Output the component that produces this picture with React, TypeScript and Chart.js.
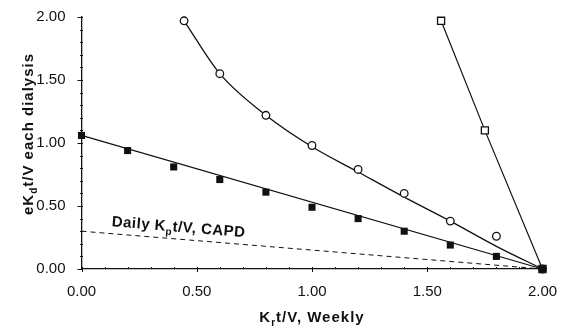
import React, { useEffect, useRef } from "react";
import { Chart, registerables } from "chart.js";

Chart.register(...registerables);

// Filled squares (hemodialysis data) and their regression line
const filledX = [0, 0.2, 0.4, 0.6, 0.8, 1.0, 1.2, 1.4, 1.6, 1.8, 2.0];
const filledY = [1.06, 0.94, 0.81, 0.71, 0.61, 0.49, 0.4, 0.3, 0.19, 0.1, 0.0];
const filledFitX = [0, 2.0];
const filledFitY = [1.06, 0.0];

// Open circles and their fitted curve
const circleX = [0.445, 0.6, 0.8, 1.0, 1.2, 1.4, 1.6, 1.8, 2.0];
const circleY = [1.97, 1.55, 1.22, 0.98, 0.79, 0.6, 0.38, 0.26, 0.0];
const circleFitX = [0.445, 0.6, 0.8, 1.0, 1.2, 1.4, 1.6, 1.8, 2.0];
const circleFitY = [1.97, 1.55, 1.22, 0.97, 0.77, 0.57, 0.38, 0.18, 0.0];

// Open squares
const openSqX = [1.56, 1.75, 2.0];
const openSqY = [1.97, 1.1, 0.0];

// Daily CAPD line (dashed)
const capdX = [0, 2.0];
const capdY = [0.3, 0.0];

// Axis
const axisMin = 0;
const axisMax = 2;
const majorStep = 0.5;
const minorTicks = [0, 0.1, 0.2, 0.3, 0.4, 0.5, 0.6, 0.7, 0.8, 0.9, 1.0, 1.1, 1.2, 1.3, 1.4, 1.5, 1.6, 1.7, 1.8, 1.9, 2.0];

const xTitle: [string, boolean][] = [["K", false], ["r", true], ["t/V, Weekly", false]];
const yTitle: [string, boolean][] = [["eK", false], ["d", true], ["t/V each dialysis", false]];
const capdLabel: [string, boolean][] = [["Daily K", false], ["p", true], ["t/V, CAPD", false]];
const capdLabelAt = { x: 0.13, y: 0.34 };

const FONT = '"Liberation Sans", Arial, Helvetica, sans-serif';
const INK = "#111";

const pts = (xs: number[], ys: number[]) => xs.map((x, i) => ({ x, y: ys[i] }));

function measureParts(ctx: CanvasRenderingContext2D, parts: [string, boolean][], size: number, sub: number) {
  let w = 0;
  for (const [t, s] of parts) {
    ctx.font = `bold ${s ? sub : size}px ${FONT}`;
    w += ctx.measureText(t).width;
  }
  return w;
}

function drawParts(ctx: CanvasRenderingContext2D, parts: [string, boolean][], x: number, y: number, size: number, sub: number) {
  let cx = x;
  for (const [t, s] of parts) {
    ctx.font = `bold ${s ? sub : size}px ${FONT}`;
    ctx.fillText(t, cx, s ? y + 4 : y);
    cx += ctx.measureText(t).width;
  }
}

const overlay = {
  id: "overlay",
  afterDraw(chart: any) {
    const { ctx, chartArea } = chart;
    const xs = chart.scales.x;
    const ys = chart.scales.y;
    ctx.save();
    ctx.strokeStyle = INK;
    ctx.lineWidth = 1;
    for (let i = 0; i < minorTicks.length; i++) {
      const v = minorTicks[i];
      const major = Math.abs(v / majorStep - Math.round(v / majorStep)) < 1e-6;
      const px = Math.round(xs.getPixelForValue(v)) + 0.5;
      ctx.beginPath();
      ctx.moveTo(px, chartArea.bottom + (major ? 3 : 0));
      ctx.lineTo(px, chartArea.bottom - 2);
      ctx.stroke();
      const py = Math.round(ys.getPixelForValue(v)) + 0.5;
      ctx.beginPath();
      ctx.moveTo(chartArea.left - (major ? 4 : 1.5), py);
      ctx.lineTo(chartArea.left + 1.5, py);
      ctx.stroke();
    }
    ctx.fillStyle = INK;
    ctx.textBaseline = "alphabetic";
    ctx.textAlign = "left";
    (ctx as any).letterSpacing = "1px";
    // x title
    const wx = measureParts(ctx, xTitle, 15, 10);
    drawParts(ctx, xTitle, (chartArea.left + chartArea.right) / 2 - wx / 2, 322, 15, 10);
    // y title
    const wy = measureParts(ctx, yTitle, 15, 10);
    ctx.save();
    ctx.translate(33, 134);
    ctx.rotate(-Math.PI / 2);
    drawParts(ctx, yTitle, -wy / 2, 0, 15, 10);
    ctx.restore();
    // CAPD label
    (ctx as any).letterSpacing = "0.5px";
    const ang = Math.atan2(
      ys.getPixelForValue(capdY[1]) - ys.getPixelForValue(capdY[0]),
      xs.getPixelForValue(capdX[1]) - xs.getPixelForValue(capdX[0])
    );
    ctx.save();
    ctx.translate(xs.getPixelForValue(capdLabelAt.x), ys.getPixelForValue(capdLabelAt.y));
    ctx.rotate(ang);
    drawParts(ctx, capdLabel, 0, 0, 15, 10);
    ctx.restore();
    (ctx as any).letterSpacing = "0px";
    ctx.restore();
  },
};

export default function App() {
  const ref = useRef<HTMLCanvasElement | null>(null);
  useEffect(() => {
    if (!ref.current) return;
    const tickFont = { family: FONT, size: 15 };
    const chart = new Chart(ref.current, {
      type: "scatter",
      data: {
        datasets: [
          {
            data: pts(filledX, filledY),
            showLine: false,
            pointStyle: "rect",
            pointRadius: 5,
            pointBackgroundColor: INK,
            pointBorderColor: INK,
            pointBorderWidth: 0,
            clip: false as any,
          },
          {
            data: pts(circleX, circleY),
            showLine: false,
            pointStyle: "circle",
            pointRadius: 3.8,
            pointBackgroundColor: "#fff",
            pointBorderColor: INK,
            pointBorderWidth: 1.3,
            clip: false as any,
          },
          {
            data: pts(openSqX, openSqY),
            showLine: true,
            borderColor: INK,
            borderWidth: 1.2,
            pointStyle: "rect",
            pointRadius: 5,
            pointBackgroundColor: "#fff",
            pointBorderColor: INK,
            pointBorderWidth: 1.3,
            clip: false as any,
          },
          {
            data: pts(circleFitX, circleFitY),
            showLine: true,
            borderColor: INK,
            borderWidth: 1.3,
            pointRadius: 0,
            cubicInterpolationMode: "monotone",
            clip: false as any,
          },
          {
            data: pts(filledFitX, filledFitY),
            showLine: true,
            borderColor: INK,
            borderWidth: 1.3,
            pointRadius: 0,
            clip: false as any,
          },
          {
            data: pts(capdX, capdY),
            showLine: true,
            borderColor: INK,
            borderWidth: 1,
            borderDash: [5, 4],
            pointRadius: 0,
            clip: false as any,
          },
        ],
      },
      options: {
        animation: false,
        responsive: true,
        maintainAspectRatio: false,
        layout: { padding: { left: 0, right: 25.5, top: 15, bottom: 0 } },
        plugins: { legend: { display: false }, tooltip: { enabled: false } },
        scales: {
          x: {
            type: "linear",
            min: axisMin,
            max: axisMax,
            grid: { display: false },
            border: { display: true, color: INK, width: 1.3 },
            ticks: {
              stepSize: majorStep,
              color: INK,
              font: tickFont,
              padding: 6,
              maxRotation: 0,
              callback: (v: any) => Number(v).toFixed(2),
            },
            afterFit: (s: any) => {
              s.height = 57;
            },
          },
          y: {
            type: "linear",
            min: axisMin,
            max: axisMax,
            grid: { display: false },
            border: { display: true, color: INK, width: 1.3 },
            ticks: {
              stepSize: majorStep,
              color: INK,
              font: tickFont,
              padding: 8,
              callback: (v: any) => Number(v).toFixed(2),
            },
            afterFit: (s: any) => {
              s.width = 81.5;
            },
          },
        },
      },
      plugins: [overlay],
    });
    return () => chart.destroy();
  }, []);
  return (
    <div style={{ position: "absolute", left: 0, top: 0, width: 568, height: 326, background: "#fff" }}>
      <canvas ref={ref} />
    </div>
  );
}
